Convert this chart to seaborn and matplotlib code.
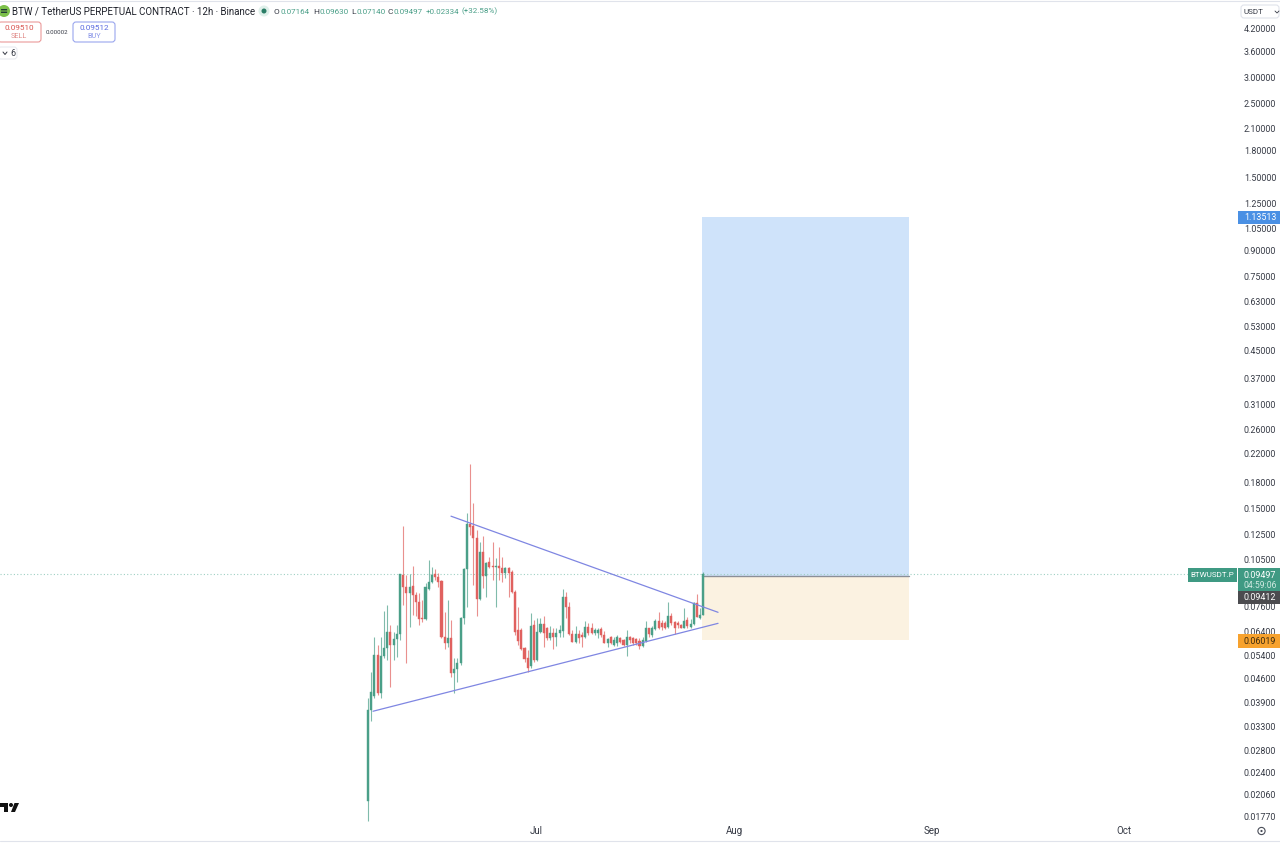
import matplotlib
matplotlib.use("Agg")
import matplotlib.pyplot as plt
import numpy as np
import pandas as pd
import seaborn as sns
from matplotlib.lines import Line2D
from matplotlib.patches import Circle, FancyBboxPatch, Polygon, Rectangle
from matplotlib.transforms import Affine2D

# -----------------------------
# Data
# -----------------------------
open_px = [.0197, .03693, .04071, .05405, .04160, .05368, .05675, .06343, .05794, .06041,
           .06255, .09434, .08677, .08322, .08738, .08207, .07816, .06992, .06944, .08557,
           .08985, .0950, .09303, .09048, .06126, .05875, .06084, .04769, .04904, .05113,
           .06992, .09835, .1347, .1328, .1220, .07981, .1107, .09368, .1033, .1004,
           .09973, .1004, .09904, .09566, .09904, .09633, .08380, .06432, .06432, .05675,
           .05294, .05007, .06660, .05221, .06343, .06706, .06522, .06084, .06299, .06126,
           .06299, .06387, .08093, .07549, .06255, .05916, .06255, .06212, .06126, .06568,
           .06522, .06299, .06299, .06477, .06212, .05875, .06126, .05794, .05875, .06084,
           .05999, .05794, .06126, .06084, .06041, .05958, .05754, .05958, .06522, .06212,
           .06477, .06848, .06753, .06753, .06568, .07090, .06800, .06753, .06660, .06522,
           .06896, .06568, .06706, .07762, .06992, .07164]
high_px = [.04015, .04802, .06126, .05794, .06126, .07342, .07655, .06660, .06343, .06660,
           .0950, .1328, .09434, .0950, .1004, .08380, .08322, .07926, .08922, .1047,
           .09973, .09835, .09566, .09111, .07291, .07926, .06896, .05294, .05294, .07041,
           .09904, .1451, .2040, .1558, .1290, .1188, .1237, .1033, .1070, .1188,
           .1062, .1146, .1070, .09973, .09973, .09767, .08498, .07549, .06522, .05714,
           .05596, .07240, .06896, .06992, .06992, .07090, .06568, .06614, .06522, .06522,
           .06660, .08557, .08380, .07816, .06432, .06614, .06432, .06343, .06848, .06753,
           .06753, .06522, .06522, .06568, .06387, .06084, .06169, .06126, .06212, .06126,
           .06041, .06432, .06169, .06126, .06084, .06084, .06126, .06848, .06522, .06614,
           .06944, .07291, .06896, .06848, .07816, .07240, .06848, .06848, .06706, .07496,
           .07041, .06944, .07816, .08264, .07496, .09630]
low_px = [.0171, .03426, .04015, .04100, .04015, .05294, .05221, .04326, .05221, .05330,
          .05999, .07655, .05113, .06568, .07140, .07090, .06660, .06800, .06896, .08498,
          .08922, .09111, .08677, .06084, .05635, .05714, .04638, .04160, .04479, .05042,
          .06706, .07549, .1246, .08799, .07090, .07926, .08617, .08093, .09904, .09111,
          .07549, .09111, .08985, .09239, .08093, .08322, .06212, .05794, .05596, .05148,
          .04802, .04938, .05148, .05184, .06299, .05714, .05999, .05999, .05635, .05754,
          .06126, .06126, .06992, .06212, .05916, .05875, .05875, .05714, .06084, .06212,
          .06255, .06212, .06084, .06126, .05875, .05714, .05835, .05754, .05754, .05875,
          .05754, .05368, .05875, .05794, .05794, .05635, .05714, .05916, .06126, .06126,
          .06432, .06477, .06432, .06477, .06522, .06660, .06255, .06522, .06522, .06522,
          .06522, .06522, .06660, .07041, .06944, .07140]
close_px = [.03693, .04184, .05405, .04160, .05368, .05675, .06343, .05794, .06041, .06255,
            .0950, .08677, .08322, .08677, .08207, .07816, .06944, .06944, .08677, .08985,
            .09434, .09303, .08985, .06126, .05875, .06084, .04769, .04904, .05113, .06992,
            .09835, .1347, .1319, .1220, .07981, .1107, .09368, .1026, .09973, .09973,
            .1004, .09904, .09566, .09904, .09566, .08380, .06343, .05958, .05635, .05257,
            .04938, .06614, .05221, .06343, .06706, .06299, .06084, .06299, .06126, .06299,
            .06432, .08093, .07549, .06255, .05916, .06255, .06084, .06126, .06568, .06299,
            .06299, .06432, .06432, .06212, .05875, .06041, .05875, .05999, .06126, .05916,
            .05794, .06126, .05999, .05875, .05875, .05754, .05999, .06522, .06255, .06522,
            .06848, .06522, .06568, .06522, .07090, .06753, .06522, .06660, .06522, .06848,
            .06614, .06706, .07762, .07041, .07140, .09497]

y_ticks = [4.2, 3.6, 3.0, 2.5, 2.1, 1.8, 1.5, 1.25, 1.05, 0.9, 0.75, 0.63, 0.53, 0.45, 0.37, 0.31,
           0.26, 0.22, 0.18, 0.15, 0.125, 0.105, 0.076, 0.064, 0.054, 0.046, 0.039, 0.033, 0.028,
           0.024, 0.0206, 0.0177]
month_days = [0, 31, 62, 92]  # days since 1 Jul
month_labels = ["Jul", "Aug", "Sep", "Oct"]

last_price = 0.09497
entry_price = 0.09412
target_price = 1.13513
stop_price = 0.06019
box_days = [26.0, 58.4]

upper_line_days = [-13.31, 28.5]
upper_line_px = [0.1422, 0.07291]
lower_line_days = [-25.52, 28.5]
lower_line_px = [0.03666, 0.06753]

GREEN = "#4a9f88"
RED = "#e0615f"
BLUE_LINE = "#7f86e2"
GREY_TEXT = "#363a45"

# -----------------------------
# Figure setup
# -----------------------------
sns.set_theme(style="white")
plt.rcParams["font.family"] = ["Roboto", "DejaVu Sans"]

W, H = 1280, 843
fig = plt.figure(figsize=(W / 100, H / 100), dpi=100, facecolor="white")
ax = fig.add_axes([0, (H - 822) / H, 1237 / W, 821 / H])
ax.set_yscale("log")

# pixels, top-left origin, for the TradingView chrome around the plot
px = Affine2D().scale(1, -1).translate(0, H)

df = pd.DataFrame({"open": open_px, "high": high_px, "low": low_px, "close": close_px})
df["day"] = -26.3 + 0.5 * np.arange(len(df))
df["colour"] = np.where(df["close"] >= df["open"], GREEN, RED)

# -----------------------------
# Long position box
# -----------------------------
ax.fill_between(box_days, entry_price, target_price, color="#cfe3fa", lw=0, zorder=1)
ax.fill_between(box_days, stop_price, entry_price, color="#fbf2e1", lw=0, zorder=1)
ax.plot(box_days, [entry_price, entry_price], color="#8b8f98", lw=1.0, zorder=2)

# current price line
ax.axhline(last_price, color="#9fd0c3", lw=0.8, ls=(0, (1, 2)), zorder=1)

# -----------------------------
# Candles
# -----------------------------
ax.vlines(df["day"], df["low"], df["high"], colors=df["colour"], lw=0.8, alpha=0.7, zorder=3)
ax.bar(df["day"], (df["close"] - df["open"]).abs(), bottom=df[["open", "close"]].min(axis=1),
       width=0.32, color=df["colour"], edgecolor=df["colour"], linewidth=0.3, zorder=4)

# -----------------------------
# Triangle lines
# -----------------------------
sns.lineplot(x=upper_line_days, y=upper_line_px, color=BLUE_LINE, lw=0.9, ax=ax, zorder=5)
sns.lineplot(x=lower_line_days, y=lower_line_px, color=BLUE_LINE, lw=0.9, ax=ax, zorder=5)

# -----------------------------
# Axes
# -----------------------------
ax.set_xlim(-83.92, 109.75)
ax.set_ylim(0.01698, 5.102)
ax.set_yticks(y_ticks)
ax.set_yticklabels([f"{t:.5f}" for t in y_ticks])
ax.yaxis.set_minor_locator(matplotlib.ticker.NullLocator())
ax.yaxis.tick_right()
ax.tick_params(axis="y", length=0, pad=5, labelsize=6.4, labelcolor=GREY_TEXT)
ax.set_xticks(month_days)
ax.set_xticklabels(month_labels)
ax.tick_params(axis="x", length=0, pad=3, labelsize=7, labelcolor=GREY_TEXT)
for spine in ax.spines.values():
    spine.set_visible(False)
ax.grid(False)
ax.set_xlabel("")
ax.set_ylabel("")


def tag(x0, y0, x1, y1, colour):
    fig.add_artist(Rectangle((x0, y0), x1 - x0, y1 - y0, transform=px, fc=colour, ec="none"))


def label(x, y, s, colour=GREY_TEXT, size=6.4, ha="left", **kw):
    fig.text(x, y, s, transform=px, color=colour, fontsize=size, ha=ha, va="center", **kw)


def outline(x0, y0, x1, y1, colour):
    fig.add_artist(FancyBboxPatch((x0, y0), x1 - x0, y1 - y0, transform=px, fc="white", ec=colour, lw=0.8,
                                  boxstyle="round,pad=0,rounding_size=3"))


# frame lines
fig.add_artist(Line2D([0, W], [0.5, 0.5], transform=px, color="#e0e3eb", lw=0.8))
fig.add_artist(Line2D([0, W], [841, 841], transform=px, color="#e0e3eb", lw=0.8))

# -----------------------------
# Price tags on the right
# -----------------------------
tag(1188, 568, 1237, 582, "#3f9a83")
label(1212.5, 575, "BTWUSDT.P", "white", 5.8, ha="center")
tag(1238, 568, 1280, 591, "#3f9a83")
label(1244, 575, f"{last_price:.5f}", "white")
label(1244, 585, "04:59:06", "#cfe9e1", 6.2)
tag(1238, 591, 1280, 604, "#4b4b4f")
label(1244, 597.5, f"{entry_price:.5f}", "white")
tag(1238, 211, 1280, 224, "#4a90e4")
label(1244, 217.5, f"{target_price:.5f}", "white")
tag(1238, 634, 1280, 648, "#f7a22e")
label(1244, 641, f"{stop_price:.5f}", "#3a2a10")

outline(1241, 5, 1279, 18, "#e0e3eb")
label(1243, 11.5, "USDT", size=5.8)
fig.add_artist(Line2D([1275, 1277, 1279], [11, 13, 11], transform=px, color=GREY_TEXT, lw=0.6))

# -----------------------------
# Header
# -----------------------------
fig.add_artist(Circle((4, 11), 6, transform=px, fc="#7cc04a", ec="none"))
label(4, 11, "≡", "#123", 7, ha="center")
label(12, 11.5, "BTW / TetherUS PERPETUAL CONTRACT · 12h · Binance", "#20232c", 7.0)
fig.add_artist(Circle((264, 11), 5.5, transform=px, fc="#dff0ea", ec="none"))
fig.add_artist(Circle((264, 11), 2.5, transform=px, fc="#2a7d66", ec="none"))

ohlc_letters = ["O", "H", "L", "C"]
ohlc_values = [0.07164, 0.09630, 0.07140, last_price]
for letter, value, x_l, x_v in zip(ohlc_letters, ohlc_values, [274, 313, 351, 388], [280.5, 319, 356.5, 394]):
    label(x_l, 11.5, letter, GREY_TEXT, 6.0)
    label(x_v, 11.5, f"{value:.5f}", GREEN, 5.8)
label(426, 11.5, "+0.02334", GREEN, 5.8)
label(461, 11.5, "(+32.58%)", GREEN, 5.8)

outline(-2, 22, 41, 42, "#eb9a9a")
label(19, 27.5, "0.09510", "#d9534f", 5.9, ha="center")
label(19, 36.5, "SELL", "#e08a88", 5.2, ha="center")
label(57, 32, "0.00002", GREY_TEXT, 4.4, ha="center")
outline(73, 22, 115, 42, "#9aa6ee")
label(94, 27.5, "0.09512", "#5a6ae0", 5.9, ha="center")
label(94, 36.5, "BUY", "#8a96e8", 5.2, ha="center")

outline(-2, 47, 17, 59, "#e8eaf0")
fig.add_artist(Line2D([3, 5, 7], [52, 54.5, 52], transform=px, color=GREY_TEXT, lw=0.7))
label(10, 53, "6", GREY_TEXT, 6.4)

# -----------------------------
# Logo and settings icon
# -----------------------------
fig.add_artist(Polygon([(0, 803), (8, 803), (8, 812), (4, 812), (4, 807), (0, 807)], transform=px, fc="#111", ec="none"))
fig.add_artist(Circle((11, 805), 2, transform=px, fc="#111", ec="none"))
fig.add_artist(Polygon([(14.5, 803), (19, 803), (15, 812), (11, 812)], transform=px, fc="#111", ec="none"))

fig.add_artist(Circle((1261.5, 831), 3.6, transform=px, fc="none", ec="#4a4e59", lw=0.8))
fig.add_artist(Circle((1261.5, 831), 1.1, transform=px, fc="#4a4e59", ec="none"))

fig.savefig("out.png", dpi=100)
